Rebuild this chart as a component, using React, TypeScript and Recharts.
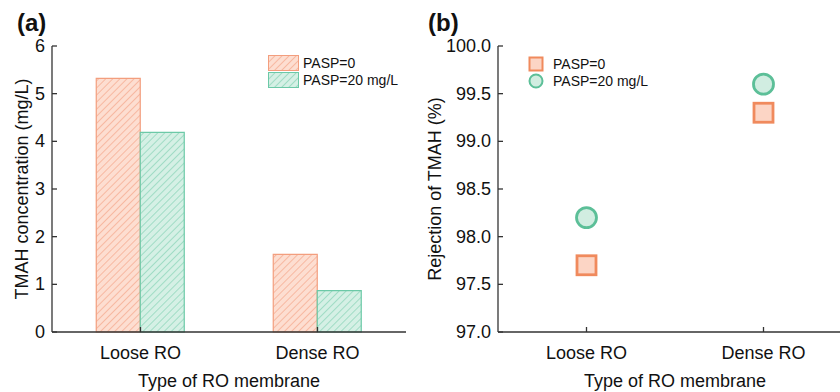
import { BarChart, Bar, XAxis, YAxis, Legend, ScatterChart, Scatter } from 'recharts';

const membranes = ['Loose RO', 'Dense RO'];
const seriesNames = ['PASP=0', 'PASP=20 mg/L'];
const concPasp0 = [5.32, 1.63];
const concPasp20 = [4.19, 0.87];
const rejPasp0 = [97.7, 99.3];
const rejPasp20 = [98.2, 99.6];
const concTicks = [0, 1, 2, 3, 4, 5, 6];
const rejTicks = [97, 97.5, 98, 98.5, 99, 99.5, 100];

const barData = membranes.map((m, i) => ({ membrane: m, pasp0: concPasp0[i], pasp20: concPasp20[i] }));
const rej0Data = membranes.map((m, i) => ({ membrane: m, value: rejPasp0[i] }));
const rej20Data = membranes.map((m, i) => ({ membrane: m, value: rejPasp20[i] }));

const FONT = '"Liberation Sans", Arial, sans-serif';
const AXIS = '#333';
const TEXT = '#111';

// bar colours (hatched)
const ORANGE_EDGE = '#F39E7E';
const GREEN_EDGE = '#6CC9A7';
// marker colours
const SQ_EDGE = '#F08A5D';
const SQ_FILL = '#FCD5C5';
const CI_EDGE = '#5CBF98';
const CI_FILL = '#D1EDE1';

const yTick = (axisX: number, fmt: (v: number) => string) => (props: any) => {
  const { y, payload } = props;
  return (
    <g>
      <line x1={axisX} x2={axisX + 5} y1={y} y2={y} stroke={AXIS} strokeWidth={1.3} />
      <text x={axisX - 7} y={y} textAnchor="end" dominantBaseline="central" fontSize={18} fontFamily={FONT} fill={TEXT}>
        {fmt(payload.value)}
      </text>
    </g>
  );
};

const xTick = (axisY: number) => (props: any) => {
  const { x, payload } = props;
  return (
    <g>
      <line x1={x} x2={x} y1={axisY} y2={axisY - 5} stroke={AXIS} strokeWidth={1.3} />
      <text x={x} y={axisY + 21} textAnchor="middle" dominantBaseline="central" fontSize={18} fontFamily={FONT} fill={TEXT}>
        {payload.value}
      </text>
    </g>
  );
};

const yTitle = (text: string, cx: number) => (props: any) => {
  const { viewBox } = props;
  const cy = viewBox.y + viewBox.height / 2;
  return (
    <text x={cx} y={cy} transform={`rotate(-90 ${cx} ${cy})`} textAnchor="middle" dominantBaseline="central" fontSize={18} fontFamily={FONT} fill={TEXT}>
      {text}
    </text>
  );
};

const xTitle = (text: string, cy: number) => (props: any) => {
  const { viewBox } = props;
  const cx = viewBox.x + viewBox.width / 2;
  return (
    <text x={cx} y={cy} textAnchor="middle" dominantBaseline="central" fontSize={18} fontFamily={FONT} fill={TEXT}>
      {text}
    </text>
  );
};

const barLegend = () => (
  <div style={{ fontFamily: FONT, fontSize: 14, color: TEXT }}>
    {seriesNames.map((name, i) => (
      <div key={name} style={{ display: 'flex', alignItems: 'center', height: 16.5 }}>
        <svg width={31} height={16}>
          <rect x={0.5} y={0.5} width={30} height={15} fill={i === 0 ? 'url(#hatchO)' : 'url(#hatchG)'} stroke={i === 0 ? ORANGE_EDGE : GREEN_EDGE} />
        </svg>
        <span style={{ marginLeft: 4 }}>{name}</span>
      </div>
    ))}
  </div>
);

const scatterLegend = () => (
  <div style={{ fontFamily: FONT, fontSize: 14, color: TEXT }}>
    {seriesNames.map((name, i) => (
      <div key={name} style={{ display: 'flex', alignItems: 'center', height: 17 }}>
        <svg width={16} height={16}>
          {i === 0 ? (
            <rect x={1.5} y={1.5} width={13} height={13} fill={SQ_FILL} stroke={SQ_EDGE} strokeWidth={2} />
          ) : (
            <circle cx={8} cy={8} r={6.5} fill={CI_FILL} stroke={CI_EDGE} strokeWidth={2} />
          )}
        </svg>
        <span style={{ marginLeft: 9 }}>{name}</span>
      </div>
    ))}
  </div>
);

const SquareShape = (p: any) => (
  <rect x={p.cx - 9.5} y={p.cy - 9.5} width={19} height={19} fill={SQ_FILL} stroke={SQ_EDGE} strokeWidth={2.8} />
);
const CircleShape = (p: any) => (
  <circle cx={p.cx} cy={p.cy} r={10} fill={CI_FILL} stroke={CI_EDGE} strokeWidth={2.8} />
);

const axisLine = { stroke: AXIS, strokeWidth: 1.3 };

export default function App() {
  return (
    <div style={{ position: 'fixed', left: 0, top: 0, width: 840, height: 392, overflow: 'hidden', background: '#fff' }}>
      <div style={{ position: 'absolute', left: 17, top: 9, fontFamily: FONT, fontWeight: 'bold', fontSize: 24, color: TEXT }}>(a)</div>
      <div style={{ position: 'absolute', left: 428, top: 9, fontFamily: FONT, fontWeight: 'bold', fontSize: 24, color: TEXT }}>(b)</div>

      <div style={{ position: 'absolute', left: 0, top: 0 }}>
        <BarChart width={420} height={392} data={barData} margin={{ top: 46, right: 14, bottom: 0, left: 0 }} barCategoryGap="25%" barGap={0}>
          <defs>
            <pattern id="hatchO" patternUnits="userSpaceOnUse" width={5} height={5} patternTransform="rotate(45)">
              <rect width={5} height={5} fill="#FDDED1" />
              <line x1={0} y1={0} x2={0} y2={5} stroke="#F4A487" strokeWidth={1.3} />
            </pattern>
            <pattern id="hatchG" patternUnits="userSpaceOnUse" width={5} height={5} patternTransform="rotate(45)">
              <rect width={5} height={5} fill="#D5F0E5" />
              <line x1={0} y1={0} x2={0} y2={5} stroke="#84D1B4" strokeWidth={1.3} />
            </pattern>
          </defs>
          <XAxis dataKey="membrane" height={60} tickLine={false} axisLine={axisLine} tick={xTick(332)} interval={0} label={{ content: xTitle('Type of RO membrane', 381) }} />
          <XAxis xAxisId="top" dataKey="membrane" orientation="top" height={0} tick={false} tickLine={false} axisLine={axisLine} />
          <YAxis width={52} domain={[0, 6]} ticks={concTicks} interval={0} tickLine={false} axisLine={axisLine} tick={yTick(52, (v) => String(v))} label={{ content: yTitle('TMAH concentration (mg/L)', 22) }} />
          <YAxis yAxisId="right" orientation="right" width={0} domain={[0, 6]} tick={false} tickLine={false} axisLine={axisLine} />
          <Bar dataKey="pasp0" name={seriesNames[0]} fill="url(#hatchO)" stroke={ORANGE_EDGE} strokeWidth={1.2} isAnimationActive={false} />
          <Bar dataKey="pasp20" name={seriesNames[1]} fill="url(#hatchG)" stroke={GREEN_EDGE} strokeWidth={1.2} isAnimationActive={false} />
          <Legend layout="vertical" align="center" verticalAlign="middle" content={barLegend} wrapperStyle={{ left: 268, top: 55, width: 'auto' }} />
        </BarChart>
      </div>

      <div style={{ position: 'absolute', left: 420, top: 0 }}>
        <ScatterChart width={440} height={392} margin={{ top: 46, right: 8, bottom: 0, left: 0 }}>
          <XAxis dataKey="membrane" type="category" allowDuplicatedCategory={false} height={60} tickLine={false} axisLine={axisLine} tick={xTick(332)} interval={0} label={{ content: xTitle('Type of RO membrane', 381) }} />
          <XAxis xAxisId="top" dataKey="membrane" type="category" allowDuplicatedCategory={false} orientation="top" height={0} tick={false} tickLine={false} axisLine={axisLine} />
          <YAxis dataKey="value" type="number" width={78} domain={[97, 100]} ticks={rejTicks} interval={0} tickLine={false} axisLine={axisLine} tick={yTick(78, (v) => v.toFixed(1))} label={{ content: yTitle('Rejection of TMAH (%)', 15) }} />
          <YAxis yAxisId="right" orientation="right" width={0} domain={[97, 100]} tick={false} tickLine={false} axisLine={axisLine} />
          <Scatter name={seriesNames[0]} data={rej0Data} shape={SquareShape} isAnimationActive={false} />
          <Scatter name={seriesNames[1]} data={rej20Data} shape={CircleShape} isAnimationActive={false} />
          <Legend layout="vertical" align="center" verticalAlign="middle" content={scatterLegend} wrapperStyle={{ left: 108, top: 55, width: 'auto' }} />
        </ScatterChart>
      </div>
    </div>
  );
}
